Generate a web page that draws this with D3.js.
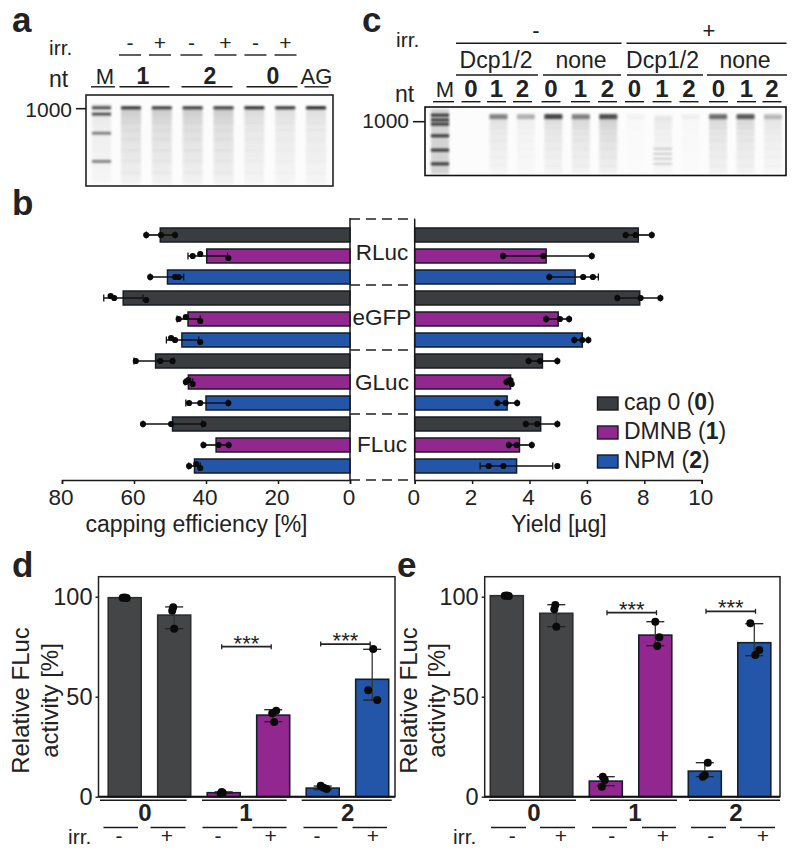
<!DOCTYPE html>
<html><head><meta charset="utf-8">
<script src="https://cdn.jsdelivr.net/npm/d3@7"></script>
<style>html,body{margin:0;padding:0;background:#fff}svg{display:block}text{font-family:"Liberation Sans",Arial,sans-serif;fill:#222}</style>
</head><body><svg id="c" width="800" height="857"></svg>
<script>
// ---------- data ----------
const series=["cap 0","DMNB","NPM"];
const seriesDigit=["0","1","2"];
const constructs=["RLuc","eGFP","GLuc","FLuc"];
const rowKeys=d3.range(12);
const capMean=[52.7,39.8,50.7,63,45,46.7,54,44.9,40,49.3,37.2,43.2];
const capLow=[48.5,34,46.2,57.5,41.6,42,49,43.7,33.8,41,33.7,41.6];
const capHigh=[56.6,45,55.5,68.4,48,51,60,45.8,45.6,57.5,40.8,44.8];
const capPts=[[56.6,52.5,48.6],[43.7,41.6,33.8],[55.5,48.6,47.6],[65.5,66.5,56.6],[47.6,45.6,41.6],[48.6,49.7,41.6],[59.5,52.7,49.3],[45.6,44.9,43.7],[44.7,41.6,33.8],[57.5,49.7,40.7],[40.7,36.5,33.7],[44.7,42.7,41.6]];
const yieldMean=[7.79,4.58,5.59,7.84,5,5.84,4.45,3.34,3.22,4.39,3.65,3.55];
const yieldLow=[7.35,3.08,4.69,7.06,4.58,5.56,3.97,3.2,2.88,3.87,3.28,2.28];
const yieldHigh=[8.26,6.17,6.4,8.56,5.38,6.05,4.97,3.42,3.57,4.97,4.08,4.81];
const yieldPts=[[7.35,7.7,8.26],[3.08,4.48,6.17],[4.69,5.87,6.21],[7.06,7.87,8.56],[4.58,5.06,5.38],[5.56,5.84,6.05],[3.97,4.37,4.97],[3.2,3.32,3.38],[2.88,3.17,3.57],[3.87,4.27,4.97],[3.28,3.55,4.08],[2.58,3.09,4.97]];
const groups=["0","1","2"];
const irrStates=["-","+"];
const barKeys=["0-","0+","1-","1+","2-","2+"];
const dMean=[99.5,90.8,2,40.8,4.3,58.7];
const dLow=[99.5,84,1.7,37.5,3.5,48.3];
const dHigh=[99.5,94.9,2.4,43.5,5.3,73.7];
const dPts=[[99.5,99.6,99.4],[94.7,93,84],[2.3,1.5,2],[43,41.7,37.3],[5.5,4.5,3.8],[73.8,53.2,48.3]];
const eMean=[100.5,91.7,7.8,80.8,12.8,77];
const eLow=[100.5,85,5.5,75.5,10,70.5];
const eHigh=[100.5,96,10,87.5,17,86.5];
const ePts=[[100.5,100.6,100.4],[95.8,93.7,85],[10,8.3,5],[87.5,79.7,75.3],[17,10.8,10],[86.7,73.3,70.8]];
const gelABand=[.9,.85,.85,.85,.95,.9,1];
const gelASmear=[.5,.5,.5,.5,.35,.3,.3];
const gelALabels=["-","+","-","+","-","+"];
const gelCTop=["Dcp1/2","none","Dcp1/2","none"];
const gelCLanes=["0","1","2","0","1","2","0","1","2","0","1","2"];
const gelCBand=[0,.5,.3,.8,.5,.75,.03,.02,.04,.6,.7,.25];
const gelCSmear=[0,.3,.15,.35,.4,.5,.03,.2,.05,.4,.4,.25];
const ladderA=[.14,.21,.42,.73];
const ladderC=[.12,.19,.25,.42,.63,.83];

// ---------- styles ----------
const col=["#3a3d3f","#91278f","#2356a8"];
const barCol=[col[0],col[0],col[1],col[1],col[2],col[2]];
const svg=d3.select("#c");
const defs=svg.append("defs");
defs.append("filter").attr("id","bl").attr("x","-20%").attr("y","-100%").attr("width","140%").attr("height","300%").append("feGaussianBlur").attr("stdDeviation","0.8");
defs.append("filter").attr("id","bl2").attr("x","-20%").attr("y","-100%").attr("width","140%").attr("height","300%").append("feGaussianBlur").attr("stdDeviation","1.3");
const grad=defs.append("linearGradient").attr("id","smear").attr("x1",0).attr("x2",0).attr("y1",0).attr("y2",1);
grad.append("stop").attr("offset",0).attr("stop-color","#999");
grad.append("stop").attr("offset",.25).attr("stop-color","#c4c4c4");
grad.append("stop").attr("offset",1).attr("stop-color","#e8e8e8");
function T(x,y,s,size,o={}){
  return svg.append("text").attr("x",x).attr("y",y).attr("font-size",size).attr("text-anchor",o.a||"middle").attr("font-weight",o.b?"bold":null).text(s);
}
function L(x1,y1,x2,y2,w=1.5,c="#1a1a1a",g=svg){
  return g.append("line").attr("x1",x1).attr("y1",y1).attr("x2",x2).attr("y2",y2).attr("stroke",c).attr("stroke-width",w);
}
// panel letters
[["a",12,32],["c",362,32],["b",12,215],["d",12,577],["e",397,577]].forEach(d=>T(d[1],d[2],d[0],35,{a:"start",b:true}));

// ---------- gels ----------
function gel(x0,x1,y0,y1,xs,lanes,band,smear,laneW,bandH,bf){
  const g=svg.append("g");
  const fy=d3.scaleLinear().domain([0,1]).range([y0,y1]);
  g.append("rect").attr("x",x0).attr("y",y0).attr("width",x1-x0).attr("height",y1-y0).attr("fill","#fcfcfc");
  const inner=g.append("g");
  const bandY=fy(.14);
  lanes.forEach((l,i)=>{
    const x=xs(l);
    inner.append("rect").attr("x",x-laneW/2).attr("y",bandY).attr("width",laneW).attr("height",y1-bandY-2)
      .attr("fill","url(#smear)").attr("opacity",smear[i]).attr("filter","url(#bl)");
    [.3,.38,.48,.6,.72,.85].forEach(f=>{
      inner.append("rect").attr("x",x-laneW/2).attr("y",fy(f)).attr("width",laneW).attr("height",1.5)
        .attr("fill","#999").attr("opacity",smear[i]*.2).attr("filter","url(#bl)");
    });
    inner.append("rect").attr("x",x-laneW/2).attr("y",bandY-bandH/2).attr("width",laneW).attr("height",bandH)
      .attr("fill","#1d1d1d").attr("opacity",band[i]).attr("filter",bf).attr("rx",1);
  });
  return {g,fy};
}
// panel a
const xA=d3.scalePoint().domain(d3.range(7)).range([131,316]);
const gA=gel(86,333,95,186,xA,d3.range(7),gelABand,gelASmear,20,3,"url(#bl)");
gA.g.append("rect").attr("x",92).attr("y",104).attr("width",19).attr("height",80).attr("fill","url(#smear)").attr("opacity",.25).attr("filter","url(#bl)");
ladderA.forEach((f,i)=>gA.g.append("rect").attr("x",92).attr("y",gA.fy(f)-1.3).attr("width",19).attr("height",2.6).attr("fill","#222").attr("opacity",i<2?.85:.6).attr("filter","url(#bl)"));
svg.append("rect").attr("x",86).attr("y",95).attr("width",247).attr("height",91).attr("fill","none").attr("stroke","#222").attr("stroke-width",1.6);
T(49,55,"irr.",21,{a:"start"});T(49,87,"nt",23,{a:"start"});
T(72,117,"1000",21,{a:"end"});L(76,108.7,86,108.7,1.6);
gelALabels.forEach((s,i)=>{
  const cx=[130,160,191.5,225.5,255.5,285.5][i];
  T(cx,50,s,21);
  L(cx-11,55,cx+11,55,1.4);
});
[[91,115],[119.5,169.5],[181.5,232.5],[246.5,297.5],[304.5,328.5]].forEach(d=>L(d[0],86.8,d[1],86.8,1.4));
T(105,84,"M",22);T(143,84,"1",23,{b:true});T(210,84,"2",23,{b:true});T(273,84,"0",23,{b:true});T(316.5,84,"AG",22);

// panel c
const xC=d3.scalePoint().domain(d3.range(12)).range([471,773]);
const gC=gel(425,786,107,175.5,xC,d3.range(12),gelCBand,gelCSmear,18,5,"url(#bl2)");
gC.g.append("rect").attr("x",431).attr("y",109).attr("width",18).attr("height",65).attr("fill","#888").attr("opacity",.35).attr("filter","url(#bl)");
ladderC.forEach(f=>gC.g.append("rect").attr("x",431).attr("y",gC.fy(f)-1.4).attr("width",18).attr("height",2.8).attr("fill","#111").attr("opacity",.85).attr("filter","url(#bl)"));
[148,153,158,163].forEach(y=>gC.g.append("rect").attr("x",653).attr("y",y).attr("width",19).attr("height",1.5).attr("fill","#777").attr("opacity",.4).attr("filter","url(#bl)"));
svg.append("rect").attr("x",425).attr("y",107).attr("width",361).attr("height",68.5).attr("fill","none").attr("stroke","#111").attr("stroke-width",1.6);
T(396,47,"irr.",21,{a:"start"});T(395,102,"nt",23,{a:"start"});
T(409,128,"1000",21,{a:"end"});L(413,121.7,425,121.7,1.6);
T(536,38,"-",22);T(709,38,"+",22);
L(456,43.3,621.5,43.3,1.4);L(626.5,43.3,786.5,43.3,1.4);
[[456,538],[543,621],[627,703],[707,787]].forEach((d,i)=>{
  L(d[0],75,d[1],75,1.4);
  T([496,581,662.5,745][i],68,gelCTop[i],23);
});
T(445,97,"M",22);L(433,101.7,454,101.7,1.4);
gelCLanes.forEach((s,i)=>{
  const cx=[471,496.5,522.5,551,580.5,607.5,634.5,662,689,718.5,746.5,772][i];
  T(cx,97,s,24,{b:true});
  L(cx-9.5,101.7,cx+9.5,101.7,1.4);
});

// ---------- panel b ----------
const yB=d3.scaleBand().domain(rowKeys).range([224.5,476.5]).paddingInner(1/3).paddingOuter(1/6);
const xCap=d3.scaleLinear().domain([0,80]).range([350,62]);
const xYld=d3.scaleLinear().domain([0,10]).range([414.7,701.7]);
function hbars(xs,mean,low,high,pts){
  const g=svg.append("g");
  rowKeys.forEach(i=>{
    const y=yB(i),h=yB.bandwidth();
    const x0=xs(0),xv=xs(mean[i]);
    g.append("rect").attr("x",Math.min(x0,xv)).attr("y",y).attr("width",Math.abs(xv-x0)).attr("height",h)
      .attr("fill",col[i%3]).attr("stroke","#171c24").attr("stroke-width",1.5);
  });
  rowKeys.forEach(i=>{
    const c=yB(i)+yB.bandwidth()/2;
    L(xs(low[i]),c,xs(high[i]),c,1.7,"#111",g);
    [low[i],high[i]].forEach(v=>L(xs(v),c-3.5,xs(v),c+3.5,1.3,"#111",g));
    g.selectAll(null).data(pts[i]).join("circle").attr("cx",d=>xs(d)).attr("cy",(d,k)=>c+[0,-2,2][k]*(Math.abs(pts[i][0]-pts[i][1])<(xs===xCap?3:.25)?1:0)).attr("r",3.1).attr("fill","#0a0a0a");
  });
}
hbars(xCap,capMean,capLow,capHigh,capPts);
hbars(xYld,yieldMean,yieldLow,yieldHigh,yieldPts);
L(350,218,350,480,1.5);L(414.7,219,414.7,480,1.5);
[219,285,350,414,480].forEach(y=>L(350,y,414.7,y,1.5,"#222").attr("stroke-dasharray","10 6"));
constructs.forEach((s,i)=>T(382,[260,325,390,452][i],s,22.5));
const axL=svg.append("g").attr("transform","translate(0,480)").call(d3.axisBottom(xCap).tickValues([80,60,40,20,0]).tickSize(4).tickPadding(5));
const axR=svg.append("g").attr("transform","translate(0,480)").call(d3.axisBottom(xYld).tickValues([0,2,4,6,8,10]).tickSize(4).tickPadding(5));
[axL,axR].forEach(a=>{a.selectAll("text").attr("font-size",22.5).attr("fill","#222").attr("dx",-1.5);a.selectAll("path,line").attr("stroke","#1a1a1a").attr("stroke-width",1.5);});
T(196.5,532,"capping efficiency [%]",23);T(559,532,"Yield [µg]",23);
series.forEach((s,i)=>{
  const y=[397,426,455][i];
  svg.append("rect").attr("x",597.5).attr("y",y).attr("width",20.5).attr("height",13).attr("fill",col[i]).attr("stroke","#171c24").attr("stroke-width",1.4);
  const t=T(624,y+12.5,"",23,{a:"start"});
  t.append("tspan").text(s+" (");
  t.append("tspan").attr("font-weight","bold").text(seriesDigit[i]);
  t.append("tspan").text(")");
});

// ---------- panels d, e ----------
const yAct=d3.scaleLinear().domain([0,110]).range([796.7,576.7]);
function vbars(o){
  const xs=d3.scaleBand().domain(barKeys).range(o.xr).paddingInner(1/3).paddingOuter(0);
  svg.append("rect").attr("x",o.x0).attr("y",yAct(110)).attr("width",o.x1-o.x0).attr("height",yAct(0)-yAct(110)).attr("fill","none").attr("stroke","#222").attr("stroke-width",1.5);
  barKeys.forEach((k,i)=>{
    svg.append("rect").attr("x",xs(k)).attr("y",yAct(o.mean[i])).attr("width",xs.bandwidth()).attr("height",yAct(0)-yAct(o.mean[i]))
      .attr("fill",i<2?"#444546":barCol[i]).attr("stroke",i<2?"#2e2e2e":"#14202e").attr("stroke-width",1.6);
  });
  barKeys.forEach((k,i)=>{
    const c=xs(k)+xs.bandwidth()/2;
    if(o.high[i]>o.low[i]){
      L(c,yAct(o.low[i]),c,yAct(o.high[i]),1.3,"#333");
      [o.low[i],o.high[i]].forEach(v=>L(c-9,yAct(v),c+9,yAct(v),1.3,"#222"));
    }
    svg.selectAll(null).data(o.pts[i]).join("circle").attr("cx",(d,j)=>c+o.jit[i][j]).attr("cy",d=>yAct(d)).attr("r",4).attr("fill","#0a0a0a");
  });
  L(o.x0,yAct(0),o.x1,yAct(0),2,"#111");
  o.brackets.forEach(b=>{
    const a=xs(b[0])+xs.bandwidth()/2+o.bo,e=xs(b[1])+xs.bandwidth()/2+o.bo,y=yAct(b[2]);
    L(a,y,e,y,1.7,"#222");L(a,y-2.5,a,y+2.5,1.3,"#222");L(e,y-2.5,e,y+2.5,1.3,"#222");
    T((a+e)/2,y+4,"***",22);
  });
  const ax=svg.append("g").attr("transform",`translate(${o.x0},0)`).call(d3.axisLeft(yAct).tickValues([0,50,100]).tickSize(3).tickPadding(3));
  ax.select("path").remove();
  ax.selectAll("text").attr("font-size",23.5).attr("fill","#222").attr("dy","0.33em");
  ax.selectAll("line").attr("stroke","#1a1a1a").attr("stroke-width",1.4);
  const lab=(x,s)=>svg.append("text").attr("transform",`translate(${x},700.5) rotate(-90)`).attr("text-anchor","middle").attr("font-size",24).text(s);
  lab(o.lx[0],"Relative FLuc");lab(o.lx[1],"activity [%]");
  groups.forEach((g,i)=>{
    L(o.gl[i][0],800.3,o.gl[i][1],800.3,1.6);
    T(o.gc[i],821,g,24,{b:true});
  });
  barKeys.forEach((k,i)=>{
    L(o.il[i][0],o.iy,o.il[i][1],o.iy,1.4);
    T(o.ix[i],843,irrStates[i%2],21);
  });
  T(o.irr,844,"irr.",21,{a:"start"});
}
vbars({x0:98.5,x1:395,xr:[108.2,388.7],bo:-2,mean:dMean,low:dLow,high:dHigh,pts:dPts,
  jit:[[-2,0,2],[-1,-2,0],[-2,-3,-1],[3,-1,1],[-2,1,4],[1,-4,5]],
  brackets:[["1-","1+",75],["2-","2+",76.3]],lx:[29,58],
  gl:[[100,186.7],[202,286.7],[301.7,391.7]],gc:[145,246,347.7],
  il:[[103.5,138],[150.5,185.5],[202.5,237.5],[252.5,286.5],[303.5,337.5],[352.5,387]],
  ix:[119,167,218,270.7,317,373],iy:827.5,irr:68});
vbars({x0:484.7,x1:780,xr:[490.3,770.8],bo:1.2,mean:eMean,low:eLow,high:eHigh,pts:ePts,
  jit:[[-2,0,2],[-1,-2,0],[-3,-1,-4],[0,4,2],[3,0,-2],[-4,5,1]],
  brackets:[["1-","1+",92],["2-","2+",92.7]],lx:[417,445],
  gl:[[489,576],[590,677],[689,780]],gc:[534,635,736],
  il:[[491,526],[540,575],[592,627],[642,676],[691,726],[740,775]],
  ix:[512.3,561,611.7,663,710.7,763],iy:827.5,irr:453});
</script></body></html>
